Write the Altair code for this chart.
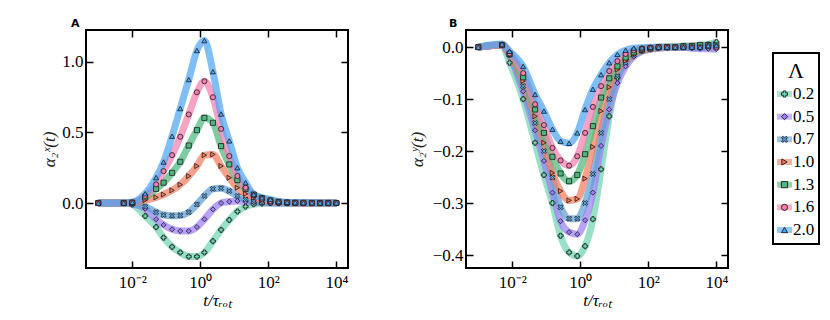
import altair as alt
import pandas as pd

# ---------------- data ----------------
LAMBDAS = ["0.2", "0.5", "0.7", "1.0", "1.3", "1.6", "2.0"]
COLORS = ["#72d6b0", "#9c80f4", "#5f9fd4", "#f37d5e", "#4fb87e", "#f27fae", "#4ea5f4"]
X_PATH = "M-1,-0.55L-0.55,-1L0,-0.45L0.55,-1L1,-0.55L0.45,0L1,0.55L0.55,1L0,0.45L-0.55,1L-1,0.55L-0.45,0Z"
SHAPES = ["cross", "diamond", X_PATH, "triangle-right", "square", "circle", "triangle-up"]

# log10(t / tau_rot) of the sampled points
LOG_T_A = [-3, -2.25, -2.0, -1.62, -1.3, -1.08, -0.83, -0.59, -0.34, -0.1, 0.12, 0.37, 0.61,
           0.85, 1.09, 1.33, 1.57, 1.81, 2.06, 2.3, 2.55, 2.79, 3.03, 3.28, 3.52, 3.76, 4.0]
ALPHA_X = {
    "0.2": [0, 0, -0.01, -0.092, -0.17, -0.245, -0.31, -0.35, -0.379, -0.379, -0.35, -0.27, -0.19,
            -0.12, -0.06, -0.025, -0.008, -0.003, 0, 0, 0, 0, 0, 0, 0, 0, 0],
    "0.5": [0, 0, -0.005, -0.04, -0.115, -0.155, -0.186, -0.198, -0.198, -0.17, -0.115, -0.045, 0.0,
            0.01, 0.015, 0.01, 0.006, 0.003, 0.001, 0, 0, 0, 0, 0, 0, 0, 0],
    "0.7": [0, 0, -0.005, -0.025, -0.065, -0.085, -0.09, -0.088, -0.065, -0.01, 0.05, 0.10, 0.105,
            0.085, 0.05, 0.025, 0.012, 0.006, 0.003, 0.001, 0, 0, 0, 0, 0, 0, 0],
    "1.0": [0, 0, 0.002, 0.02, 0.04, 0.06, 0.09, 0.13, 0.191, 0.262, 0.339, 0.344, 0.262,
            0.179, 0.108, 0.065, 0.04, 0.022, 0.012, 0.006, 0.003, 0.001, 0.001, 0, 0, 0, 0],
    "1.3": [0, 0, 0.003, 0.04, 0.1, 0.144, 0.214, 0.292, 0.407, 0.516, 0.603, 0.568, 0.403,
            0.273, 0.162, 0.1, 0.06, 0.035, 0.018, 0.008, 0.004, 0.002, 0.001, 0, 0, 0, 0],
    "1.6": [0, 0, 0.004, 0.05, 0.132, 0.226, 0.339, 0.469, 0.627, 0.784, 0.862, 0.749, 0.525,
            0.332, 0.191, 0.108, 0.055, 0.03, 0.015, 0.007, 0.004, 0.002, 0.001, 0.001, 0, 0, 0],
    "2.0": [0, 0, 0.005, 0.066, 0.18, 0.29, 0.473, 0.669, 0.874, 1.08, 1.15, 0.93, 0.63,
            0.44, 0.25, 0.144, 0.061, 0.038, 0.026, 0.01, 0.005, 0.003, 0.002, 0.002, 0.001, 0.001, 0.001],
}

LOG_T_B = [-3, -2.3, -2.08, -1.68, -1.33, -1.07, -0.82, -0.58, -0.33, -0.09, 0.14, 0.37, 0.61,
           0.85, 1.09, 1.33, 1.57, 1.81, 2.06, 2.3, 2.55, 2.79, 3.03, 3.28, 3.52, 3.76, 4.0]
ALPHA_Y = {
    "0.2": [0, 0.004, -0.03, -0.1, -0.184, -0.246, -0.3, -0.363, -0.395, -0.402, -0.383, -0.331, -0.235,
            -0.133, -0.059, -0.024, -0.012, -0.005, -0.002, 0, 0, 0, 0, 0, 0.002, 0.005, 0.01],
    "0.5": [0, 0.004, -0.016, -0.085, -0.16, -0.219, -0.28, -0.335, -0.356, -0.36, -0.333, -0.28, -0.19,
            -0.12, -0.069, -0.037, -0.018, -0.008, -0.004, -0.002, -0.001, 0, 0, -0.002, -0.003, -0.003, -0.004],
    "0.7": [0, 0.004, -0.015, -0.075, -0.146, -0.2, -0.251, -0.308, -0.33, -0.33, -0.3, -0.244, -0.165,
            -0.1, -0.056, -0.03, -0.015, -0.007, -0.003, -0.001, 0, 0, 0, 0, 0, 0, 0],
    "1.0": [0, 0.004, -0.014, -0.065, -0.133, -0.184, -0.242, -0.277, -0.295, -0.292, -0.253, -0.192, -0.123,
            -0.077, -0.043, -0.026, -0.013, -0.006, -0.003, -0.001, 0, 0, 0, 0.002, 0.003, 0.003, 0.005],
    "1.3": [0, 0.004, -0.013, -0.058, -0.12, -0.165, -0.211, -0.243, -0.258, -0.246, -0.206, -0.152, -0.097,
            -0.06, -0.037, -0.02, -0.01, -0.004, -0.002, 0, 0, 0, 0.002, 0.002, 0.004, 0.004, 0.003],
    "1.6": [0, 0.004, -0.012, -0.05, -0.11, -0.15, -0.194, -0.218, -0.228, -0.21, -0.165, -0.115, -0.075,
            -0.046, -0.027, -0.013, -0.006, -0.003, -0.001, 0, 0, 0, 0, 0, 0, 0.002, 0],
    "2.0": [0, 0.006, -0.008, -0.037, -0.091, -0.123, -0.158, -0.181, -0.185, -0.165, -0.12, -0.081, -0.053,
            -0.03, -0.014, -0.006, -0.002, -0.001, 0, 0, 0, 0, 0, 0, 0, 0.003, 0.003],
}

X_TICKS = [1e-2, 1e0, 1e2, 1e4]
Y_TICKS_A = [0.0, 0.5, 1.0]
Y_TICKS_B = [0.0, -0.1, -0.2, -0.3, -0.4]

# ---------------- helpers ----------------
FONT = "Liberation Serif"
X_DOMAIN = [10 ** -3.36, 10 ** 4.34]
X_LABELS = ("datum.value < 0.1 ? '10\u207b\u00b2' : datum.value < 10 ? '10\u2070' : "
            "datum.value < 1000 ? '10\u00b2' : '10\u2074'")


def make_df(grid, table):
    rows = []
    for lam in LAMBDAS:
        for g, v in zip(grid, table[lam]):
            rows.append({"lam": lam, "t": 10.0 ** g, "v": v})
    return pd.DataFrame(rows)


def tick_axis(orient, values):
    return alt.Axis(orient=orient, values=values, offset=-7, tickSize=7, tickWidth=1.5,
                    tickColor="black", labels=False, domain=False, grid=False, title=None)


def letter_mark(text, dx):
    return alt.Chart(pd.DataFrame({"s": [text]})).mark_text(
        align="left", baseline="alphabetic", font="DejaVu Sans", fontWeight="bold",
        fontSize=11, color="black").encode(x=alt.value(dx), y=alt.value(-3), text="s:N")


def panel(df, ytitle, ydomain, yticks, letter, dx, ytitle_pad):
    xs = alt.Scale(type="log", domain=X_DOMAIN, nice=False)
    ys = alt.Scale(domain=ydomain, nice=False, zero=False)
    color = alt.Color("lam:N", scale=alt.Scale(domain=LAMBDAS, range=COLORS), legend=None)
    shape = alt.Shape("lam:N", scale=alt.Scale(domain=LAMBDAS, range=SHAPES), legend=None)
    base = alt.Chart(df)

    lines = base.mark_line(strokeWidth=7, opacity=0.72, interpolate="monotone").encode(
        x=alt.X("t:Q", scale=xs, axis=alt.Axis(
            orient="bottom", values=X_TICKS, labelExpr=X_LABELS, ticks=False, domain=False, grid=False,
            labelFont=FONT, labelFontSize=17, labelPadding=6, labelColor="black", labelFlush=False,
            title="t/\u03c4\u1d63\u2092\u209c", titleFont=FONT, titleFontSize=17, titleFontWeight="normal",
            titleFontStyle="italic", titleColor="black", titlePadding=2)),
        y=alt.Y("v:Q", scale=ys, axis=alt.Axis(
            orient="left", values=yticks, format=".1f", ticks=False, domain=False, grid=False,
            labelFont=FONT, labelFontSize=17, labelPadding=3, labelColor="black",
            title=ytitle, titleFont=FONT, titleFontSize=17, titleFontWeight="normal",
            titleFontStyle="italic", titleColor="#222222", titlePadding=ytitle_pad)),
        color=color,
    )
    points = base.mark_point(filled=True, size=26, stroke="#1c1c1c", strokeWidth=0.8, opacity=1).encode(
        x=alt.X("t:Q", scale=xs, axis=tick_axis("bottom", X_TICKS)),
        y=alt.Y("v:Q", scale=ys, axis=tick_axis("left", yticks)),
        color=color,
        shape=shape,
    )
    mirror = base.mark_point(opacity=0).encode(
        x=alt.X("t:Q", scale=xs, axis=tick_axis("top", X_TICKS)),
        y=alt.Y("v:Q", scale=ys, axis=tick_axis("right", yticks)),
    )
    return alt.layer(lines, points, mirror, letter_mark(letter, dx)).resolve_axis(
        x="independent", y="independent").properties(width=262, height=238)


panel_a = panel(make_df(LOG_T_A, ALPHA_X), "\u03b1\u2082\u02e3(t)", [-0.46, 1.225], Y_TICKS_A, "A", -15, 3)
panel_b = panel(make_df(LOG_T_B, ALPHA_Y), "\u03b1\u2082\u02b8(t)", [-0.425, 0.033], Y_TICKS_B, "B", -17, 6)

# ---------------- legend ----------------
leg_df = pd.DataFrame({"lam": LAMBDAS})
ly = alt.Y("lam:N", scale=alt.Scale(type="point", domain=LAMBDAS, range=[64, 200], padding=0), axis=None)
lcolor = alt.Color("lam:N", scale=alt.Scale(domain=LAMBDAS, range=COLORS), legend=None)
lshape = alt.Shape("lam:N", scale=alt.Scale(domain=LAMBDAS, range=SHAPES), legend=None)
lbase = alt.Chart(leg_df)
leg_lines = lbase.mark_rule(strokeWidth=6, opacity=0.6).encode(
    y=ly, x=alt.value(4), x2=alt.value(19), color=lcolor)
leg_pts = lbase.mark_point(filled=True, size=38, stroke="#1c1c1c", strokeWidth=0.9, opacity=1).encode(
    y=ly, x=alt.value(11.5), color=lcolor, shape=lshape)
leg_txt = lbase.mark_text(align="left", baseline="middle", font=FONT, fontSize=17, color="black").encode(
    y=ly, x=alt.value(20), text="lam:N")
leg_title = alt.Chart(pd.DataFrame({"s": ["\u039b"]})).mark_text(
    align="center", baseline="middle", font=FONT, fontSize=22, color="black").encode(
    x=alt.value(23), y=alt.value(41), text="s:N")
leg_box = alt.Chart(pd.DataFrame({"s": ["box"]})).mark_rect(
    fillOpacity=0, stroke="black", strokeWidth=2).encode(
    x=alt.value(0), x2=alt.value(46), y=alt.value(23), y2=alt.value(214))
legend = alt.layer(leg_box, leg_lines, leg_pts, leg_txt, leg_title, letter_mark("\u00a0", 0)).properties(
    width=46, height=214,
    view=alt.ViewBackground(stroke="transparent"),
)

chart = alt.hconcat(
    alt.hconcat(panel_a, panel_b, spacing=55),
    legend,
    spacing=39,
).properties(
    padding={"left": 31, "top": 9, "right": 0, "bottom": 0},
).configure_view(stroke="black", strokeWidth=2)

chart.save("out.html", embed_options={"renderer": "svg", "actions": False})
